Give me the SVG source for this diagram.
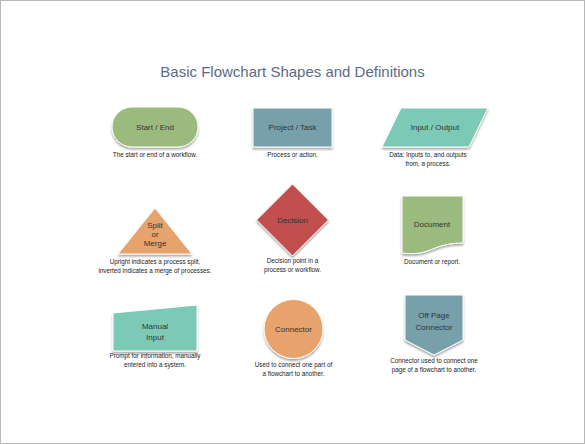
<svg xmlns="http://www.w3.org/2000/svg" width="585" height="444" viewBox="0 0 585 444">
<style>
.title{font-family:"Liberation Sans",Arial,sans-serif;font-size:15px;fill:#5b6b86;text-anchor:middle}
.lbl{font-family:"Liberation Sans",Arial,sans-serif;font-size:8px;fill:#333;text-anchor:middle}
.desc{font-family:"Liberation Sans",Arial,sans-serif;font-size:6.3px;fill:#222;text-anchor:middle}
.shp{stroke:#fff;stroke-width:1;filter:url(#sh)}
</style>
<defs>
<filter id="sh" x="-20%" y="-20%" width="140%" height="150%">
<feGaussianBlur in="SourceAlpha" stdDeviation="1.2"/>
<feOffset dy="1.5" result="b"/>
<feComponentTransfer><feFuncA type="linear" slope="0.35"/></feComponentTransfer>
<feMerge><feMergeNode/><feMergeNode in="SourceGraphic"/></feMerge>
</filter>
</defs>
<rect x="0.5" y="0.5" width="584" height="443" fill="#fff" stroke="#b8b8b8"/>
<text class="title" x="292.5" y="77">Basic Flowchart Shapes and Definitions</text>
<g id="connectors"/>
<g id="start-end">
<rect class="shp" x="112" y="107" width="86" height="40" rx="20" fill="#9bbb7e"/>
<text class="lbl" x="155" y="130">Start / End</text>
<text class="desc" x="155" y="157">The start or end of a workflow.</text>
</g>
<g id="project-task">
<rect class="shp" x="253" y="108" width="79" height="39" fill="#77a0ab"/>
<text class="lbl" x="292.5" y="130">Project / Task</text>
<text class="desc" x="292.5" y="157">Process or action.</text>
</g>
<g id="input-output">
<polygon class="shp" points="401,108 488,108 469,147 382,147" fill="#7cc9b5"/>
<text class="lbl" x="435" y="130">Input / Output</text>
<text class="desc" x="428" y="157">Data: Inputs to, and outputs</text>
<text class="desc" x="428" y="165.5">from, a process.</text>
</g>
<g id="split-merge">
<polygon class="shp" points="155,208 192,254 118,254" fill="#e8a26c"/>
<text class="lbl" x="155" y="228">Split</text>
<text class="lbl" x="155" y="237">or</text>
<text class="lbl" x="155" y="246">Merge</text>
<text class="desc" x="155" y="264">Upright indicates a process split,</text>
<text class="desc" x="155" y="272.5">inverted indicates a merge of processes.</text>
</g>
<g id="decision">
<polygon class="shp" points="292.5,184 328.5,220 292.5,256 256.5,220" fill="#c0504d"/>
<text class="lbl" x="292.5" y="222.5">Decision</text>
<text class="desc" x="292.5" y="263">Decision point in a</text>
<text class="desc" x="292.5" y="271.5">process or workflow.</text>
</g>
<g id="document">
<path class="shp" d="M402,196 H463 V243 C448,243 440,246 430,250 C420,254 412,254 402,253 Z" fill="#9bbb7e"/>
<text class="lbl" x="432" y="226.5">Document</text>
<text class="desc" x="432" y="264">Document or report.</text>
</g>
<g id="manual-input">
<polygon class="shp" points="113,313 197,305 197,351 113,351" fill="#7cc9b5"/>
<text class="lbl" x="155" y="329">Manual</text>
<text class="lbl" x="155" y="340">Input</text>
<text class="desc" x="155" y="358">Prompt for information, manually</text>
<text class="desc" x="155" y="366.5">entered into a system.</text>
</g>
<g id="connector">
<circle class="shp" cx="293.5" cy="329" r="29.5" fill="#e8a26c"/>
<text class="lbl" x="293.5" y="331.5">Connector</text>
<text class="desc" x="293.5" y="367">Used to connect one part of</text>
<text class="desc" x="293.5" y="375.5">a flowchart to another.</text>
</g>
<g id="off-page">
<polygon class="shp" points="405,295 463,295 463,340 434,355 405,340" fill="#77a0ab"/>
<text class="lbl" x="434" y="318">Off Page</text>
<text class="lbl" x="434" y="329.5">Connector</text>
<text class="desc" x="434" y="363">Connector used to connect one</text>
<text class="desc" x="434" y="371.5">page of a flowchart to another.</text>
</g>
</svg>
